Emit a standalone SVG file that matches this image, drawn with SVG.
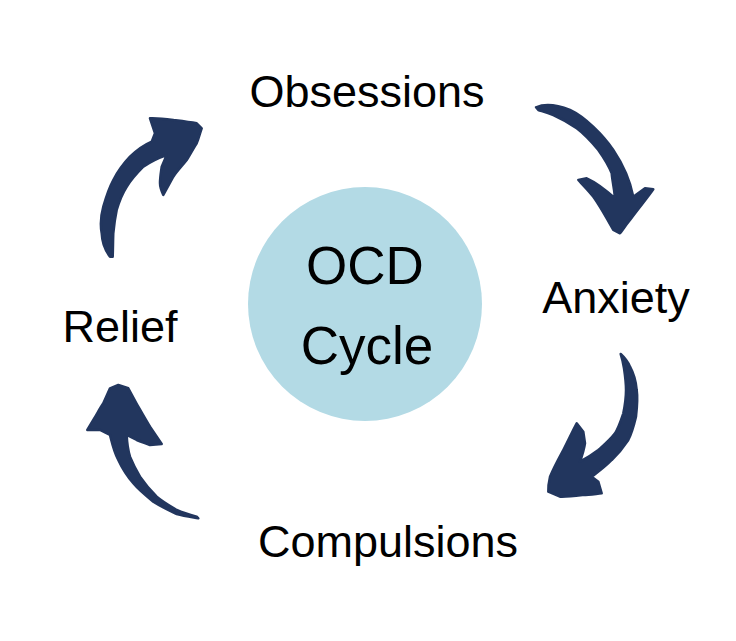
<svg xmlns="http://www.w3.org/2000/svg" width="736" height="641" viewBox="0 0 736 641">
<style>
.lbl{font-family:"Liberation Sans",Arial,sans-serif;font-size:45px;fill:#000;text-anchor:middle}
.ctr{font-family:"Liberation Sans",Arial,sans-serif;font-size:53px;fill:#000;text-anchor:middle}
.arr{fill:#22365e;stroke:#22365e;stroke-width:2.5;stroke-linejoin:round}
</style>
<rect width="736" height="641" fill="#fff"/>
<g id="center">
<circle cx="365" cy="304" r="117" fill="#b3dae5"/>
<text class="ctr" x="365" y="284">OCD</text>
<text class="ctr" x="367" y="364">Cycle</text>
</g>
<g id="obsessions"><text class="lbl" x="367" y="107">Obsessions</text></g>
<g id="anxiety"><text class="lbl" x="616" y="313">Anxiety</text></g>
<g id="compulsions"><text class="lbl" x="388" y="557">Compulsions</text></g>
<g id="relief"><text class="lbl" x="120" y="342">Relief</text></g>
<g id="connectors">
<path class="arr" d="M536,107.3 C546,103 560,106 570,110 C585,117 603,135 613.3,150 C622,163 630,180 633.3,196.7 L645,188.3 L653.3,189.3 C648,197 638,209 630,220 C625,226 622,231 620,233.3 L613.3,230 C610,224 600,206 593.3,196.7 C588,190 582,184 578.3,180 L586.7,178.3 C595,182 608,192 615,198.3 C614,186 612,180 611.7,173.3 C608,164 604,158 598.3,150 C590,140 583,133 576.7,128.3 C568,122 560,118 553.3,115 C546,112 541,111 538.3,110 Z"/>
<path class="arr" d="M620.7,354 C625,358 628,362 630,366.7 C634,374 636,382 636.7,390 C638,399 637,408 636,416.7 C634,425 632,433 628.3,440 C623,448 618,454 611.7,460 C605,467 598,472 591.7,476.7 L598.3,481.7 L601.7,493.3 C595,494 589,495 583.3,495 C575,496 567,497 560,496.7 L548.3,491.7 C548,486 549,481 550,476.7 C554,467 559,458 563.3,450 C568,441 572,432 576.7,423.3 L583.3,431.7 L585,443.3 C584,450 582,456 580,461.7 C587,458 593,454 598.3,450 C604,445 610,440 615,433.3 C619,427 621,420 623.3,413.3 C625,405 626,398 626,390 C626,382 625,375 624,368.3 C623,362 622,358 620.7,354 Z"/>
<path class="arr" d="M198.3,518.3 C191,517 184,516 176.7,514 C168,510 160,506 153.3,501.7 C145,495 138,489 133.3,483.3 C127,476 122,468 118.3,460 C114,452 112,443 110,435 L100,430 L87.3,430 L93.3,420 C97,414 100,408 103.3,403.3 L110,388.3 L118.3,385 L128.3,388.3 C132,395 135,401 138.3,406.7 C142,413 146,420 150,426.7 L161.7,444 L150,445 C145,443 141,442 136.7,440 L126.7,435 C127,442 128,450 130,456.7 C133,464 136,470 140,476.7 C145,484 150,490 156.7,496.7 C163,502 170,506 176.7,510 C183,513 190,515 196.7,516.7 Z"/>
<path class="arr" d="M110,256.7 C104,249 102,241 101.7,233.3 C100,224 101,215 103.3,206.7 C106,197 109,188 113.3,180 C118,171 124,163 130,156.7 C137,150 144,145 151.7,141.7 L155,133.3 L150,118.3 C158,118 166,119 173.3,120 C181,121 189,122 196.7,123.3 L201.7,128.3 C200,133 199,138 196.7,143.3 C193,149 190,155 186.7,160 C182,166 177,171 173.3,176.7 L163.3,195 C161,190 160,187 160,183.3 C160,177 161,172 161.7,166.7 L166.7,155 C158,158 150,162 143.3,166.7 C137,173 131,180 126.7,186.7 C122,194 119,202 116.7,210 C115,218 114,226 113.3,233.3 C113,241 113,249 112.7,256.7 Z"/>
</g>
</svg>
